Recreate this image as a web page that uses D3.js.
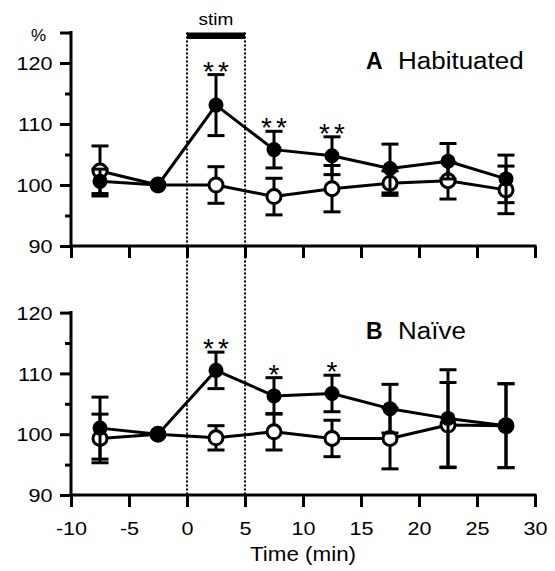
<!DOCTYPE html>
<html><head><meta charset="utf-8">
<script src="https://cdn.jsdelivr.net/npm/d3@7"></script>
<style>html,body{margin:0;padding:0;background:#fff}svg{display:block}</style>
</head><body><svg id="c" width="555" height="571"></svg>
<script>
// ---- data ----
const times = [-7.5, -2.5, 2.5, 7.5, 12.5, 17.5, 22.5, 27.5];
// A Habituated
const habStimMean = [100.6, 100, 113.1, 105.8, 104.8, 102.7, 103.9, 101.0];
const habStimErr  = [2.0, 0, 5.0, 3.0, 3.1, 4.0, 2.9, 3.9];
const habCtrlMean = [102.3, 100, 100.0, 98.1, 99.4, 100.3, 100.7, 99.2];
const habCtrlErr  = [4.1, 0, 3.0, 3.0, 3.8, 2.0, 3.0, 3.9];
const habSig      = ["", "", "**", "**", "**", "", "", ""];
// B Naive
const naiStimMean = [101.0, 100, 110.5, 106.3, 106.7, 104.2, 102.6, 101.4];
const naiStimErr  = [5.1, 0, 3.0, 3.0, 3.0, 4.0, 8.0, 6.9];
const naiCtrlMean = [99.3, 100, 99.4, 100.4, 99.3, 99.3, 101.5, 101.4];
const naiCtrlErr  = [4.0, 0, 2.0, 3.0, 3.0, 5.0, 7.0, 6.9];
const naiSig      = ["", "", "**", "*", "*", "", "", ""];

const xTicks = [-10, -5, 0, 5, 10, 15, 20, 25, 30];
const xTickLabels = ["-10", "-5", "0", "5", "10", "15", "20", "25", "30"];
const yTicks = [90, 100, 110, 120];
const yTickLabels = ["90", "100", "110", "120"];
const yMinor = [95, 105, 115];
const stimWindow = [0, 5];
const xTitle = "Time (min)";
const yUnit = "%";

// ---- layout ----
const FONT = "'Liberation Sans', Arial, Helvetica, sans-serif";
const SX = 1.2;
const svg = d3.select("#c");
const x = d3.scaleLinear().domain([-10, 30]).range([71, 535]);
const yTop = d3.scaleLinear().domain([90, 125]).range([246, 32.5]);
const yBot = d3.scaleLinear().domain([90, 120]).range([495, 312.6]);

function txt(g, str, px, py, size, anchor, sx, weight) {
  return g.append("text")
    .attr("transform", `translate(${px},${py}) scale(${sx},1)`)
    .attr("text-anchor", anchor)
    .attr("font-family", FONT)
    .attr("font-size", size)
    .attr("font-weight", weight || "normal")
    .attr("fill", "#000")
    .text(str);
}

// stim window dotted lines & bar
const stimG = svg.append("g");
stimWindow.forEach(t => {
  stimG.append("line")
    .attr("x1", x(t)).attr("x2", x(t))
    .attr("y1", yTop(125)).attr("y2", yBot(90))
    .attr("stroke", "#000").attr("stroke-width", 2)
    .attr("stroke-dasharray", "2,2");
});
stimG.append("rect")
  .attr("x", x(stimWindow[0])).attr("width", x(stimWindow[1]) - x(stimWindow[0]))
  .attr("y", yTop(125)).attr("height", 6.5).attr("fill", "#000");
txt(stimG, "stim", (x(stimWindow[0]) + x(stimWindow[1])) / 2, 25, 17, "middle", 1.12);

function styleAxis(g) {
  g.select(".domain").remove();
  g.selectAll(".tick line").attr("stroke", "#000").attr("stroke-width", 3);
}

function drawSeries(g, y, mean, err, filled) {
  const pts = times.map((t, i) => ({ t, m: mean[i], e: err[i] }));
  g.append("path").datum(pts)
    .attr("d", d3.line().x(d => x(d.t)).y(d => y(d.m)))
    .attr("fill", "none").attr("stroke", "#000").attr("stroke-width", 3)
    .attr("stroke-linejoin", "round");
  const eb = g.append("g").attr("stroke", "#000").attr("stroke-width", 3);
  pts.filter(d => d.e > 0).forEach(d => {
    const cx = x(d.t), yHi = y(d.m + d.e), yLo = y(d.m - d.e);
    eb.append("line").attr("x1", cx).attr("x2", cx).attr("y1", yHi).attr("y2", yLo);
    eb.append("line").attr("x1", cx - 8.5).attr("x2", cx + 8.5).attr("y1", yHi).attr("y2", yHi);
    eb.append("line").attr("x1", cx - 8.5).attr("x2", cx + 8.5).attr("y1", yLo).attr("y2", yLo);
  });
  g.append("g").selectAll("circle").data(pts).join("circle")
    .attr("cx", d => x(d.t)).attr("cy", d => y(d.m))
    .attr("r", filled ? 7.5 : 7)
    .attr("fill", filled ? "#000" : "#fff")
    .attr("stroke", "#000").attr("stroke-width", filled ? 0 : 3);
}

function panel(y, yMax, stimM, stimE, ctrlM, ctrlE, sig, letter, name, labelY, showX) {
  const g = svg.append("g");
  // y axis major
  const majorVals = yMax > 120 ? yTicks.concat([yMax]) : yTicks;
  const ya = g.append("g").attr("transform", `translate(${x.range()[0]},0)`)
    .call(d3.axisLeft(y).tickValues(majorVals).tickSize(11).tickSizeOuter(0)
      .tickFormat(v => { const i = yTicks.indexOf(v); return i >= 0 ? yTickLabels[i] : ""; }));
  styleAxis(ya);
  ya.selectAll(".tick text")
    .attr("x", null).attr("dy", null)
    .attr("transform", "translate(-18.5,6.7) scale(" + SX + ",1)")
    .attr("font-family", FONT).attr("font-size", 18).attr("fill", "#000");
  const ym = g.append("g").attr("transform", `translate(${x.range()[0]},0)`)
    .call(d3.axisLeft(y).tickValues(yMinor).tickSize(6).tickSizeOuter(0).tickFormat(""));
  styleAxis(ym);
  // x axis
  const xa = g.append("g").attr("transform", `translate(0,${y(90)})`)
    .call(d3.axisBottom(x).tickValues(xTicks).tickSize(12).tickSizeOuter(0)
      .tickFormat(v => showX ? xTickLabels[xTicks.indexOf(v)] : ""));
  styleAxis(xa);
  xa.selectAll(".tick text")
    .attr("y", null).attr("dy", null)
    .attr("transform", "translate(0,40) scale(" + SX + ",1)")
    .attr("font-family", FONT).attr("font-size", 18).attr("fill", "#000");
  // axis lines
  g.append("path")
    .attr("d", `M${x.range()[0]},${y(yMax)}V${y(90)}H${x.range()[1]}`)
    .attr("fill", "none").attr("stroke", "#000").attr("stroke-width", 3)
    .attr("stroke-linecap", "square");
  // series: open (control) first, filled (stim) on top
  drawSeries(g, y, ctrlM, ctrlE, false);
  drawSeries(g, y, stimM, stimE, true);
  // significance
  times.forEach((t, i) => {
    if (!sig[i]) return;
    const yc = y(stimM[i] + stimE[i]) - 10;
    const ls = sig[i].length > 1 ? 4 : 0;
    g.append("text")
      .attr("x", x(t) + ls / 2).attr("y", yc + 16)
      .attr("text-anchor", "middle")
      .attr("font-family", FONT).attr("font-size", 28)
      .attr("letter-spacing", ls)
      .text(sig[i]);
  });
  // panel label
  txt(g, letter, 366, labelY, 23, "start", 1.0, "bold");
  txt(g, name, 398, labelY, 23, "start", 1.13);
}

panel(yTop, 125, habStimMean, habStimErr, habCtrlMean, habCtrlErr, habSig, "A", "Habituated", 68.5, false);
panel(yBot, 120, naiStimMean, naiStimErr, naiCtrlMean, naiCtrlErr, naiSig, "B", "Naïve", 338.5, true);

// unit and axis title
txt(svg, yUnit, 46, 41, 17, "end", 1.0);
txt(svg, xTitle, (x.range()[0] + x.range()[1]) / 2, 561, 20, "middle", 1.12);
</script>
</body></html>
